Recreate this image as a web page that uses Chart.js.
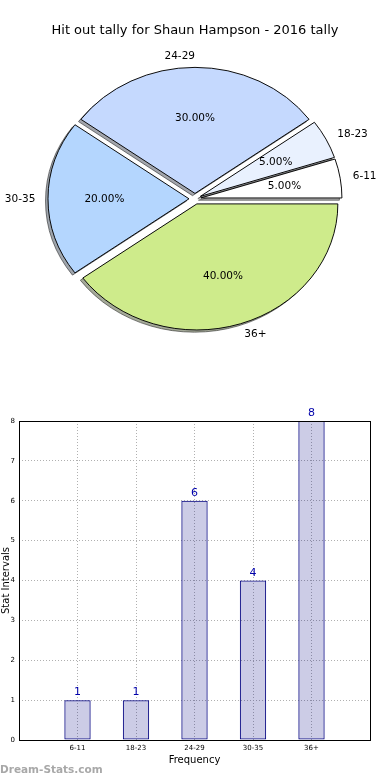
<!DOCTYPE html>
<html>
<head>
<meta charset="utf-8">
<script src="https://cdn.jsdelivr.net/npm/chart.js@4"></script>
<style>
  body { margin: 0; background: #fff; width: 390px; height: 780px; position: relative; overflow: hidden; }
  #pieWrap { position: absolute; left: 0; top: 0; width: 390px; height: 390px; }
  #barWrap { position: absolute; left: 0; top: 390px; width: 390px; height: 390px; }
  .mark { position: absolute; left: 0; top: 763px; font: bold 10.5px "DejaVu Sans", sans-serif; color: #a8a8a8; }
</style>
</head>
<body>
<div id="pieWrap"><canvas id="PieChart" width="390" height="390"></canvas></div>
<div id="barWrap"><canvas id="BarChart" width="390" height="390"></canvas></div>
<div class="mark">Dream-Stats.com</div>
<script>
const categories = ['6-11', '18-23', '24-29', '30-35', '36+'];
const counts = [1, 1, 6, 4, 8];
const pieColors = ['#ffffff', '#e9f1fe', '#c5d9fe', '#b4d6fe', '#ceeb8b'];
const yTicks = [0, 1, 2, 3, 4, 5, 6, 7, 8];

const FONT = '"DejaVu Sans", sans-serif';
const total = counts.reduce((a, b) => a + b, 0);

// pie is drawn clockwise from east, so reverse the order (matplotlib goes counter clockwise)
const pieLabels = categories.slice().reverse();
const pieData = counts.slice().reverse();
const pieBg = pieColors.slice().reverse();

const RX = 141;       // horizontal radius
const SQUASH = 0.894; // matplotlib pie was not axis('equal')
const EXPLODE = 6;

// chart.js offset grows small slices, so explode them by hand
const drawArcs = (chart, ctx) => {
    chart.getDatasetMeta(0).data.forEach(a => {
        const mid = (a.startAngle + a.endAngle) / 2;
        ctx.save();
        ctx.translate(Math.cos(mid) * EXPLODE, Math.sin(mid) * EXPLODE);
        a.draw(ctx);
        ctx.restore();
    });
};

const ellipsePlugin = {
    id: 'ellipse',
    beforeDatasetsDraw(chart) {
        const ctx = chart.ctx;
        const arc0 = chart.getDatasetMeta(0).data[0];
        ctx.save();
        ctx.translate(arc0.x, arc0.y);
        ctx.scale(1, SQUASH);
        ctx.translate(-arc0.x, -arc0.y);
        // shadow pass
        ctx.save();
        ctx.translate(-2.5, 2.5);
        ctx.filter = 'brightness(0.35) opacity(0.5)';
        drawArcs(chart, ctx);
        ctx.restore();
        drawArcs(chart, ctx);
        ctx.restore();
        return false;
    },
    afterDraw(chart) {
        const ctx = chart.ctx;
        const meta = chart.getDatasetMeta(0);
        ctx.save();
        ctx.fillStyle = '#000';
        ctx.font = '10.5px ' + FONT;
        ctx.textBaseline = 'middle';
        meta.data.forEach((a, i) => {
            const mid = (a.startAngle + a.endAngle) / 2;
            const c = Math.cos(mid), s = Math.sin(mid);
            const d1 = EXPLODE + 1.09 * RX;
            ctx.textAlign = c > 0.001 ? 'left' : 'right';
            ctx.fillText(pieLabels[i], a.x + d1 * c, a.y + SQUASH * d1 * s);
            const d2 = EXPLODE + 0.6 * RX;
            ctx.textAlign = 'center';
            ctx.fillText((pieData[i] / total * 100).toFixed(2) + '%', a.x + d2 * c, a.y + SQUASH * d2 * s);
        });
        ctx.restore();
    }
};

const pieCtx = document.getElementById('PieChart').getContext('2d');
const PieChart = new Chart(pieCtx, {
    type: 'pie',
    data: {
        labels: pieLabels,
        datasets: [{
            data: pieData,
            backgroundColor: pieBg,
            borderColor: '#000',
            borderWidth: 1,
            offset: 0
        }]
    },
    options: {
        responsive: false,
        animation: false,
        radius: RX,
        rotation: 90,
        layout: { padding: { top: 0, bottom: 31 } },
        plugins: {
            legend: { display: false },
            tooltip: { enabled: false },
            title: {
                display: true,
                text: 'Hit out tally for Shaun Hampson - 2016 tally',
                color: '#000',
                font: { family: FONT, size: 13, weight: 'normal' },
                padding: { top: 23, bottom: 0 }
            }
        }
    },
    plugins: [ellipsePlugin]
});

// bar chart

const frameAndValues = {
    id: 'frameAndValues',
    afterDatasetsDraw(chart) {
        const ctx = chart.ctx;
        const a = chart.chartArea;
        ctx.save();
        ctx.strokeStyle = '#000';
        ctx.lineWidth = 1;
        ctx.strokeRect(Math.round(a.left) + 0.5, Math.round(a.top) + 0.5, Math.round(a.right - a.left), Math.round(a.bottom - a.top));
        ctx.fillStyle = 'rgb(0,0,170)';
        ctx.font = '11px ' + FONT;
        ctx.textAlign = 'center';
        ctx.textBaseline = 'bottom';
        chart.getDatasetMeta(0).data.forEach((bar, i) => {
            ctx.fillText(String(counts[i]), bar.x, bar.y - 2);
        });
        ctx.restore();
    }
};

const barCtx = document.getElementById('BarChart').getContext('2d');
const BarChart = new Chart(barCtx, {
    type: 'bar',
    data: {
        datasets: [{
            data: counts.map((v, i) => ({ x: i, y: v })),
            backgroundColor: 'rgba(0, 0, 128, 0.2)',
            borderColor: 'rgb(0, 0, 128)',
            borderWidth: 1,
            borderSkipped: false,
            categoryPercentage: 1,
            barPercentage: 0.45
        }]
    },
    options: {
        responsive: false,
        animation: false,
        layout: { padding: { top: 31, right: 20, left: 0, bottom: 14 } },
        plugins: {
            legend: { display: false },
            tooltip: { enabled: false }
        },
        scales: {
            x: {
                type: 'linear',
                min: -1,
                max: 5,
                offset: false,
                afterFit: (scale) => { scale.height = 26; },
                grid: {
                    color: '#b0b0b0',
                    offset: false,
                    drawTicks: false
                },
                border: { display: false, dash: [1, 2] },
                ticks: {
                    stepSize: 1,
                    color: '#000',
                    font: { family: FONT, size: 7 },
                    padding: 4,
                    maxRotation: 0,
                    autoSkip: false,
                    callback: (value) => categories[value] || ''
                },
                title: {
                    display: true,
                    text: 'Frequency',
                    color: '#000',
                    font: { family: FONT, size: 10 },
                    padding: { top: 2, bottom: 0 }
                }
            },
            y: {
                min: 0,
                max: 8,
                afterFit: (scale) => { scale.width = 19; },
                afterBuildTicks: (scale) => { scale.ticks = yTicks.map(v => ({ value: v })); },
                grid: {
                    color: '#b0b0b0',
                    drawTicks: false
                },
                border: { display: false, dash: [1, 2] },
                ticks: {
                    color: '#000',
                    font: { family: FONT, size: 7 },
                    padding: 4
                },
                title: {
                    display: true,
                    text: 'Stat Intervals',
                    color: '#000',
                    font: { family: FONT, size: 10 },
                    padding: 0
                }
            }
        }
    },
    plugins: [frameAndValues]
});
</script>
</body>
</html>
